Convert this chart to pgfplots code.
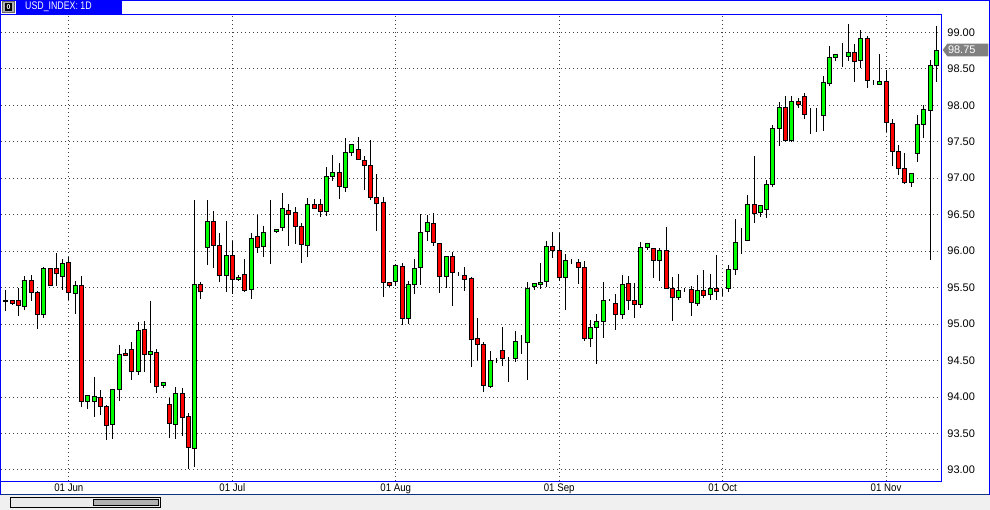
\documentclass[border=0pt]{standalone}
\usepackage{pgfplots}
\pgfplotsset{compat=1.18}
\usepackage{pgfplotstable}
\usepackage{fontspec}
\setmainfont{Liberation Sans}
\newfontfamily\narrowfont[FakeStretch=0.88]{Liberation Sans}
\newfontfamily\tabfont[FakeStretch=0.8]{Liberation Sans}

\definecolor{upgreen}{RGB}{0,255,0}
\definecolor{downred}{RGB}{255,0,0}
\definecolor{frameblue}{RGB}{0,0,255}
\definecolor{navyline}{RGB}{16,48,128}
\definecolor{panelgray}{RGB}{240,240,240}
\definecolor{labelgray}{RGB}{128,128,128}

% daily candles: index, open, high, low, close
\pgfplotstableread{
i o h l c
1 95.303 95.472 95.174 95.330
2 95.317 95.330 95.257 95.280
3 95.317 95.495 95.106 95.261
4 95.243 95.665 95.197 95.592
5 95.592 95.679 95.321 95.427
6 95.431 95.450 94.931 95.138
7 95.138 95.784 95.078 95.757
8 95.757 95.770 95.520 95.523
9 95.757 95.977 95.518 95.688
10 95.656 95.899 95.463 95.830
11 95.839 95.922 95.335 95.427
12 95.422 95.592 95.142 95.523
13 95.523 95.656 93.867 93.936
14 93.936 94.023 93.839 94.023
15 93.936 94.280 93.729 94.009
16 93.995 94.096 93.752 93.867
17 93.872 93.890 93.408 93.606
18 93.624 94.106 93.422 94.106
19 94.106 94.711 93.945 94.587
20 94.601 94.656 94.569 94.569
21 94.656 94.757 94.234 94.349
22 94.349 95.032 94.303 94.917
23 94.931 95.046 94.349 94.587
24 94.587 95.317 94.197 94.628
25 94.615 94.661 94.060 94.147
26 94.161 94.202 94.128 94.202
27 93.902 93.984 93.444 93.641
28 93.627 94.135 93.421 94.053
29 94.053 94.121 93.467 93.723
30 93.737 93.778 93.010 93.307
31 93.298 96.706 93.037 95.544
32 95.544 95.576 95.343 95.452
33 96.056 96.706 95.809 96.413
34 96.413 96.550 95.764 96.084
35 96.084 96.248 95.585 95.672
36 95.672 96.413 95.439 95.946
37 95.946 96.139 95.411 95.617
38 95.617 95.670 95.590 95.645
39 95.686 95.892 95.439 95.466
40 95.480 96.248 95.343 96.180
41 96.194 96.495 95.974 96.056
42 96.070 96.344 95.919 96.262
43 96.265 96.706 95.823 96.265
44 96.276 96.303 96.248 96.303
45 96.331 96.797 96.276 96.578
46 96.564 96.646 96.070 96.509
47 96.523 96.605 96.097 96.344
48 96.344 96.386 95.837 96.097
49 96.084 96.729 95.919 96.646
50 96.633 96.715 96.578 96.578
51 96.633 96.715 96.468 96.537
52 96.544 97.152 96.484 97.024
53 97.024 97.317 96.969 97.079
54 97.079 97.203 96.722 96.887
55 96.873 97.546 96.814 97.354
56 97.354 97.463 97.308 97.463
57 97.395 97.559 97.258 97.258
58 97.244 97.299 96.841 97.175
59 97.175 97.532 96.709 96.736
60 96.736 97.052 96.283 96.654
61 96.667 96.736 95.373 95.570
62 95.570 95.570 95.515 95.528
63 95.583 95.830 95.528 95.803
64 95.789 95.844 94.993 95.075
65 95.075 95.597 95.007 95.542
66 95.542 95.899 95.409 95.762
67 95.775 96.517 95.542 96.256
68 96.269 96.489 96.141 96.393
69 96.379 96.517 96.077 96.118
70 96.105 96.105 95.432 95.652
71 95.652 95.940 95.496 95.926
72 95.926 95.995 95.254 95.707
73 95.714 95.721 95.666 95.714
74 95.666 95.789 95.460 95.611
75 95.624 95.652 94.417 94.787
76 94.801 95.089 94.499 94.719
77 94.719 94.755 94.074 94.156
78 94.144 94.629 94.130 94.506
79 94.512 94.542 94.464 94.512
80 94.643 94.958 94.432 94.533
81 94.533 94.550 94.213 94.533
82 94.533 94.908 94.487 94.766
83 94.759 94.844 94.588 94.759
84 94.752 95.585 94.240 95.494
85 95.512 95.558 95.466 95.558
86 95.549 95.837 95.480 95.576
87 95.590 96.143 95.516 96.070
88 96.070 96.262 95.905 96.015
89 96.015 96.248 95.590 95.645
90 95.645 95.960 95.187 95.878
91 95.855 95.890 95.820 95.855
92 95.850 95.892 95.544 95.782
93 95.782 95.860 94.762 94.807
94 94.807 95.054 94.684 94.958
95 94.958 95.137 94.460 95.041
96 95.041 95.576 94.807 95.329
97 95.335 95.350 95.320 95.335
98 95.288 95.411 94.926 95.137
99 95.137 95.672 95.068 95.549
100 95.562 95.658 95.192 95.329
101 95.329 95.562 95.082 95.274
102 95.274 96.125 95.219 96.056
103 96.056 96.111 96.010 96.111
104 96.038 96.040 95.635 95.868
105 95.868 96.038 95.594 96.010
106 96.010 96.326 95.489 95.489
107 95.489 95.653 95.049 95.365
108 95.365 95.681 95.324 95.461
109 95.475 95.500 95.440 95.475
110 95.475 95.530 95.118 95.296
111 95.283 95.667 95.242 95.461
112 95.461 95.736 95.365 95.392
113 95.406 95.681 95.324 95.489
114 95.489 95.955 95.338 95.447
115 95.455 95.475 95.390 95.455
116 95.489 95.804 95.447 95.749
117 95.749 96.436 95.681 96.120
118 96.130 96.312 95.955 96.130
119 96.147 96.765 96.134 96.641
120 96.641 97.310 96.394 96.518
121 96.532 96.628 96.463 96.628
122 96.573 96.971 96.449 96.916
123 96.916 97.726 96.875 97.684
124 97.684 98.041 97.437 97.973
125 97.973 98.124 97.492 97.520
126 97.520 98.124 97.492 98.055
127 98.055 98.096 97.959 98.014
128 98.124 98.165 97.808 97.876
129 97.877 97.959 97.603 97.877
130 97.871 97.959 97.630 97.871
131 97.863 98.397 97.653 98.315
132 98.301 98.808 98.269 98.658
133 98.658 98.699 98.603 98.699
134 98.666 98.849 98.530 98.666
135 98.671 99.114 98.603 98.726
136 98.726 98.836 98.324 98.603
137 98.616 99.032 98.507 98.918
138 98.918 98.945 98.242 98.342
139 98.345 98.350 98.283 98.345
140 98.288 98.699 98.274 98.329
141 98.329 98.489 97.639 97.767
142 97.753 97.808 97.174 97.370
143 97.370 97.452 97.041 97.137
144 97.137 97.342 96.918 96.945
145 96.945 97.068 96.886 97.068
146 97.342 97.863 97.219 97.740
147 97.740 98.000 97.548 97.945
148 97.932 98.616 95.886 98.548
149 98.548 99.082 98.315 98.753
}\candles

\pgfplotsset{
  candleaxis/.style={
    at={(1pt,28.7pt)}, anchor=south west,
    scale only axis, width=940.7pt, height=467pt,
    xmin=0.205, xmax=149.85, ymin=92.845, ymax=99.247,
  },
}

\begin{document}
\begin{tikzpicture}[x=1pt,y=1pt]
\path[use as bounding box] (0,0) rectangle (990,510);
\fill[white] (0,0) rectangle (990,510);

% grid, labels and wicks
\begin{axis}[candleaxis,
  axis line style={draw=frameblue, line width=1pt},
  xtick={11,37,63,89,115,141},
  xticklabels={01 Jun,01 Jul,01 Aug,01 Sep,01 Oct,01 Nov},
  ytick={93,93.5,...,99},
  yticklabel pos=right,
  major tick length=0pt,
  tick style={draw=none},
  grid=major,
  major grid style={draw=black!75, line width=1pt, dash pattern=on 1pt off 3pt},
  /pgf/number format/fixed,
  /pgf/number format/fixed zerofill,
  /pgf/number format/precision=2,
  /pgf/number format/assume math mode=true,
  xticklabel style={font=\narrowfont\fontsize{11}{13}\selectfont, anchor=north, inner sep=0pt, yshift=-2pt},
  yticklabel style={font=\fontsize{11}{13}\selectfont, anchor=west, inner sep=0pt, xshift=5.5pt},
]
\addplot[only marks, mark size=0pt, mark options={draw=none, fill=none},
  error bars/.cd, y dir=both, y explicit, error mark=none,
  error bar style={draw=black, line width=1pt, solid}]
  table[x=i, y expr={(\thisrow{h}+\thisrow{l})/2}, y error expr={(\thisrow{h}-\thisrow{l})/2}] {\candles};
\end{axis}

% candle bodies
\begin{axis}[candleaxis, hide axis, ybar stacked, bar width=4pt]
\addplot[draw=none, fill=none]
  table[x=i, y expr={min(\thisrow{o},\thisrow{c})}] {\candles};
\addplot[draw=black, line width=1pt, fill=upgreen]
  table[x=i, y expr={\thisrow{c}>\thisrow{o} ? \thisrow{c}-\thisrow{o} : 0}] {\candles};
\addplot[draw=black, line width=1pt, fill=downred]
  table[x=i, y expr={\thisrow{o}>\thisrow{c} ? \thisrow{o}-\thisrow{c} : 0}] {\candles};
\end{axis}

% window frame, tab, scrollbar
\fill[panelgray] (0,0) rectangle (990,14.5);
\draw[navyline, line width=1pt] (0,15) -- (990,15);
\draw[frameblue, line width=1pt] (0.5,15) -- (0.5,509.5) -- (989.5,509.5) -- (989.5,15);
\draw[black, line width=1pt, fill=black!8] (10.3,2.3) rectangle (160.3,12.3);
\draw[black, line width=1pt, fill=black!30] (93.3,4.3) rectangle (158.3,10.7);

\fill[frameblue] (16,496) rectangle (121.7,510);
\node[anchor=west, text=white, inner sep=0pt, font=\tabfont\fontsize{11}{13}\selectfont] at (25,503) {USD\_INDEX: 1D};
\fill[black!30] (2,497) rectangle (15,509);
\draw[black!60, line width=0.8pt] (2.4,497.4) rectangle (14.6,508.6);
\fill[black] (5,499) rectangle (12,507);
\node[text=white, inner sep=0pt, font=\fontsize{7}{8}\selectfont\bfseries] at (8.5,503) {0};

% last price marker
\fill[labelgray] (942.7,460) -- (947.3,466.3) -- (988.3,466.3) -- (988.3,453.7) -- (947.3,453.7) -- cycle;
\node[anchor=west, text=white, inner sep=0pt, font=\fontsize{11}{13}\selectfont] at (947.8,460) {98.75};
\end{tikzpicture}
\end{document}
